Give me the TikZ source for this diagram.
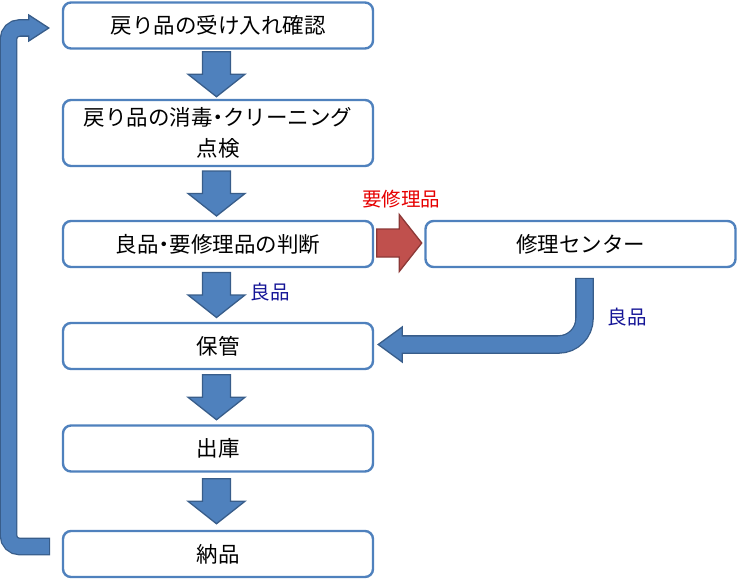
\documentclass[tikz,border=0pt]{standalone}
\usepackage{fontspec}
\newfontfamily\jp{Noto Sans CJK JP}
\usetikzlibrary{calc}
\definecolor{boxblue}{RGB}{79,129,189}
\definecolor{arrfill}{RGB}{79,129,189}
\definecolor{arrline}{RGB}{56,93,138}
\definecolor{redfill}{RGB}{192,80,77}
\definecolor{redline}{RGB}{140,56,54}
\definecolor{lblred}{RGB}{230,0,0}
\definecolor{lblblue}{RGB}{20,20,150}
\newcommand{\nakaguro}{\kern-0.25em・\kern-0.25em}
\tikzset{
  box/.style={draw=boxblue, line width=2.4pt, rounded corners=8pt, fill=white,
    minimum width=310pt, minimum height=46pt, inner sep=0pt, align=center,
    font=\jp\fontsize{21.5}{31}\selectfont},
  lbl/.style={inner sep=0pt, font=\jp\fontsize{19.5}{22}\selectfont},
  arrshape/.style={fill=arrfill, draw=arrline, line width=1.3pt, line join=miter},
  redshape/.style={fill=redfill, draw=redline, line width=1.3pt, line join=miter},
  pics/dnarr/.style={code={
    \path[#1] (-14,-22.5) -- (14,-22.5) -- (14,0) -- (28.5,0) -- (0,22.5)
      -- (-28.5,0) -- (-14,0) -- cycle;
  }},
}
\begin{document}
\begin{tikzpicture}[x=1pt,y=-1pt]
\useasboundingbox (0,0) rectangle (738,583);
% boxes
\node[box] (b1) at (218,25.5) {戻り品の受け入れ確認};
\node[box, minimum height=66pt] (b2) at (218,133) {戻り品の消毒\nakaguro クリーニング\\点検};
\node[box] (b3) at (218,244) {良品\nakaguro 要修理品の判断};
\node[box] (rc) at (580.5,244) {修理センター};
\node[box] (b4) at (218,346) {保管};
\node[box] (b5) at (218,448.5) {出庫};
\node[box] (b6) at (218,554) {納品};
% down block arrows
\pic[xshift=-1.5pt] at ($(b1.south)!0.5!(b2.north)$) {dnarr=arrshape};
\pic[xshift=-1.5pt] at ($(b2.south)!0.5!(b3.north)$) {dnarr=arrshape};
\pic[xshift=-1.5pt] at ($(b3.south)!0.5!(b4.north)$) {dnarr=arrshape};
\pic[xshift=-1.5pt] at ($(b4.south)!0.5!(b5.north)$) {dnarr=arrshape};
\pic[xshift=-1.5pt] at ($(b5.south)!0.5!(b6.north)$) {dnarr=arrshape};
% red arrow to repair center
\pic[rotate=90, xshift=1pt] at ($(b3.east)!0.5!(rc.west)$) {dnarr=redshape};
% curved arrow from repair center back to storage
\coordinate (c1) at ([xshift=4pt,yshift=-11pt]rc.south);
\coordinate (c2) at ([xshift=28pt,yshift=1.5pt]b4.east);
\draw[arrline, line width=18.6pt, rounded corners=26pt] ([yshift=1.3pt]c1) |- ([xshift=-1pt]c2);
\filldraw[arrshape] ([yshift=17.5pt]c2) -- ([xshift=4pt,yshift=1.5pt]b4.east) -- ([yshift=-17.5pt]c2) -- cycle;
\draw[arrfill, line width=16pt, rounded corners=26pt] (c1) |- ([xshift=-1.5pt]c2);
% loop arrow from delivery back to receiving
\coordinate (s1) at ([xshift=-13pt,yshift=7.5pt]b6.west);
\coordinate (lx) at (8.5,0);
\coordinate (h1) at ([xshift=-33pt,yshift=-2.5pt]b1.west);
\draw[arrline, line width=17.6pt, rounded corners=11pt] ([xshift=1.3pt]s1) -- (s1 -| lx) -- (lx |- h1) -- ([xshift=1pt]h1);
\filldraw[arrshape] ([yshift=13pt]h1) -- ([xshift=-13pt,yshift=-2.5pt]b1.west) -- ([yshift=-13pt]h1) -- cycle;
\draw[arrfill, line width=15pt, rounded corners=11pt] (s1) -- (s1 -| lx) -- (lx |- h1) -- ([xshift=1.5pt]h1);
% labels
\node[lbl, text=lblred] (lr) at (401,199) {要修理品};
\node[lbl, text=lblblue] (lg1) at (270,292) {良品};
\node[lbl, text=lblblue] (lg2) at (627,317) {良品};
\end{tikzpicture}
\end{document}
